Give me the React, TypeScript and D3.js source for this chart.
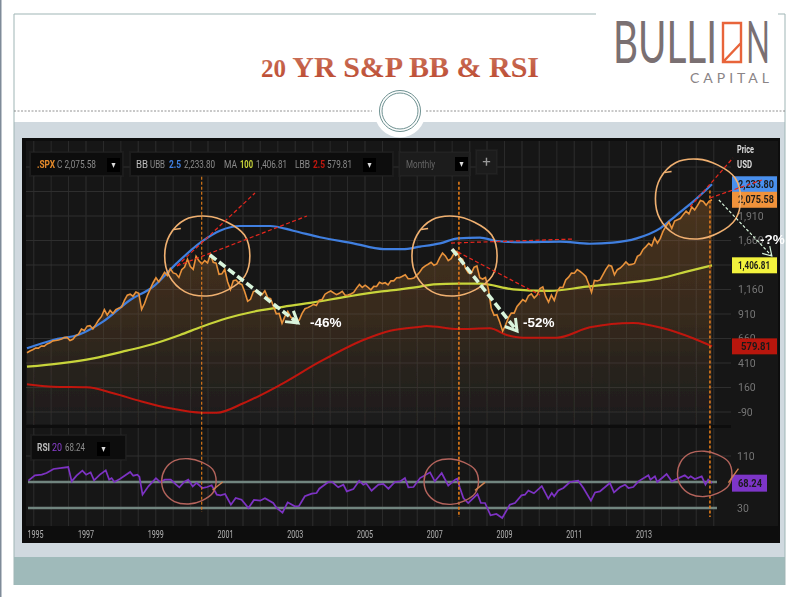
import React, { useEffect } from 'react';
import * as d3 from 'd3';

// monthly closes, Apr 1995 to Mar 2015
const spxStart = 1995.33;
const spxValues = [
  515, 533, 545, 562, 562, 584, 582, 605, 616,
  636, 640, 645, 654, 669, 671, 640, 652, 687, 705, 757, 741,
  786, 791, 757, 801, 848, 885, 954, 899, 947, 915, 955, 970,
  980, 1049, 1102, 1112, 1091, 1134, 1121, 957, 1017, 1099, 1164, 1229,
  1280, 1238, 1286, 1335, 1302, 1373, 1329, 1320, 1283, 1363, 1389, 1469,
  1394, 1366, 1499, 1452, 1421, 1455, 1431, 1518, 1437, 1429, 1315, 1320,
  1366, 1240, 1160, 1249, 1256, 1224, 1211, 1134, 1041, 1060, 1139, 1148,
  1130, 1107, 1147, 1077, 1067, 990, 912, 916, 815, 886, 936, 880,
  856, 841, 848, 917, 964, 975, 990, 1008, 996, 1051, 1058, 1112,
  1131, 1145, 1126, 1107, 1121, 1141, 1102, 1104, 1115, 1130, 1174, 1212,
  1181, 1204, 1181, 1157, 1192, 1191, 1234, 1220, 1229, 1207, 1249, 1248,
  1280, 1281, 1295, 1311, 1270, 1270, 1277, 1304, 1336, 1378, 1401, 1418,
  1438, 1407, 1421, 1482, 1531, 1503, 1455, 1474, 1527, 1549, 1481, 1468,
  1379, 1331, 1323, 1386, 1400, 1280, 1267, 1283, 1165, 969, 896, 903,
  826, 735, 798, 873, 919, 919, 987, 1021, 1057, 1036, 1096, 1115,
  1074, 1104, 1169, 1187, 1089, 1031, 1102, 1049, 1141, 1183, 1181, 1258,
  1286, 1327, 1326, 1364, 1345, 1321, 1292, 1219, 1131, 1253, 1247, 1258,
  1312, 1366, 1408, 1398, 1310, 1362, 1379, 1407, 1441, 1412, 1416, 1426,
  1498, 1515, 1569, 1598, 1631, 1606, 1686, 1633, 1682, 1757, 1806, 1848,
  1783, 1859, 1872, 1884, 1924, 1960, 1931, 2003, 1972, 2018, 2068, 2059,
  2020, 2060, 2075.58,
];

const upperBand: [number, number][] = [
  [1995.33, 560], [1996.09, 645], [1996.87, 703], [1997.54, 832], [1998.33, 1053], [1999.0, 1189],
  [1999.68, 1427], [2000.41, 1648], [2000.94, 1760], [2001.52, 1808], [2002.4, 1808], [2003.07, 1760],
  [2003.85, 1693], [2004.82, 1631], [2005.69, 1573], [2006.25, 1572], [2006.76, 1597], [2007.34, 1631],
  [2007.87, 1682], [2008.5, 1689], [2008.99, 1655], [2009.75, 1642], [2010.83, 1648], [2011.7, 1627],
  [2012.37, 1638], [2013.06, 1682], [2013.74, 1784], [2014.22, 1920], [2014.7, 2056], [2015.25, 2233.8],
];
const middleBand: [number, number][] = [
  [1995.33, 372], [1996.29, 407], [1997.26, 458], [1998.23, 536], [1999.0, 604], [1999.78, 696],
  [2000.41, 780], [2001.14, 866], [2001.91, 933], [2002.69, 978], [2003.66, 1029], [2004.63, 1087],
  [2005.59, 1138], [2006.18, 1162], [2006.76, 1189], [2007.15, 1213], [2007.87, 1219], [2008.5, 1219],
  [2009.47, 1162], [2010.53, 1145], [2011.6, 1189], [2012.76, 1229], [2013.74, 1274], [2014.51, 1342],
  [2015.25, 1406.81],
];
const lowerBand: [number, number][] = [
  [1995.33, 193], [1996.09, 168], [1997.07, 162], [1997.84, 101], [1998.62, 22], [1999.49, -52],
  [2000.41, -97], [2000.85, -97], [2001.62, -1], [2002.69, 186], [2003.85, 423], [2005.11, 645],
  [2005.89, 740], [2006.76, 780], [2006.95, 788], [2007.87, 757], [2008.79, 764], [2009.28, 696],
  [2009.76, 668], [2010.73, 668], [2011.7, 774], [2012.96, 818], [2013.83, 764], [2014.7, 662],
  [2015.25, 579.81],
];

const rsiYears = [
  1995.37, 1995.56, 1995.76, 1995.9, 1996.1, 1996.53, 1996.63, 1996.77, 1996.94, 1997.05, 1997.18, 1997.28,
  1997.45, 1997.62, 1997.72, 1997.79, 1997.87, 1998.03, 1998.33, 1998.42, 1998.54, 1998.6, 1998.69, 1998.86,
  1999.08, 1999.2, 1999.34, 1999.51, 1999.65, 1999.76, 1999.9, 2000.02, 2000.15, 2000.26, 2000.43, 2000.57,
  2000.7, 2000.85, 2000.96, 2001.09, 2001.26, 2001.4, 2001.57, 2001.77, 2001.93, 2002.11, 2002.25, 2002.49,
  2002.59, 2002.76, 2002.91, 2003.12, 2003.24, 2003.41, 2003.61, 2003.75, 2003.83, 2004.09, 2004.21, 2004.38,
  2004.53, 2004.63, 2004.82, 2004.99, 2005.11, 2005.19, 2005.35, 2005.55, 2005.69, 2005.84, 2006.03, 2006.18,
  2006.32, 2006.42, 2006.57, 2006.76, 2007.05, 2007.19, 2007.39, 2007.58, 2007.78, 2007.84, 2007.92, 2008.02,
  2008.16, 2008.43, 2008.53, 2008.65, 2008.81, 2008.98, 2009.15, 2009.37, 2009.52, 2009.71, 2009.81, 2009.91,
  2010.07, 2010.3, 2010.49, 2010.59, 2010.66, 2010.78, 2010.93, 2011.12, 2011.36, 2011.51, 2011.73, 2011.85,
  2011.99, 2012.28, 2012.4, 2012.57, 2012.72, 2012.82, 2012.96, 2013.11, 2013.4, 2013.46, 2013.59, 2013.66,
  2013.93, 2014.08, 2014.46, 2014.56, 2014.63, 2014.75, 2014.95, 2015.06, 2015.14, 2015.25,
];
const rsiValues = [
  72, 80.3, 81.3, 83.8, 90, 93, 71, 79.7, 87.4, 81.3, 84.9, 72.6,
  81.3, 88, 73.6, 76, 70, 74.6, 85.4, 79.7, 81.3, 77.7, 50.5, 63.3,
  76, 70, 73.6, 73.6, 66.9, 61.8, 70, 73.6, 63.3, 68.5, 60.8, 62.3,
  64.9, 50.5, 49.5, 51.5, 35, 45.4, 42.8, 30, 42.3, 41.3, 44.9, 37.7,
  30, 22.8, 38.7, 32.6, 33, 48, 52, 53, 59.7, 70, 70, 61.8,
  65.9, 55.6, 59, 72, 65.9, 68, 56.7, 65.9, 67, 59.7, 70, 71,
  76, 61.8, 62.3, 76, 84.9, 71, 83.8, 64.4, 73.6, 75, 60.8, 45.4,
  37.7, 51.5, 37.7, 37.7, 18.7, 20.8, 14.6, 35, 37.7, 49.5, 50.5, 57,
  52.6, 63.8, 44.4, 53, 48, 57, 60.8, 70, 72, 60.8, 41.3, 54,
  55.6, 68.5, 54, 61.8, 65.9, 60.8, 62.3, 71, 80.3, 73.6, 78.7, 70,
  82.3, 71, 80.3, 76, 78.7, 74.6, 78.7, 65.9, 73.6, 68.24,
];

const yearLabels = [1997, 1999, 2001, 2003, 2005, 2007, 2009, 2011, 2013];
const priceTicks = [1910, 1660, 1160, 910, 660, 410, 160, -90];
const priceGrid = [2410, 2160, 1910, 1660, 1410, 1160, 910, 660, 410, 160, -90];
const rsiTicks = [110, 30];

// event lines (year)
const eventYears = [2000.41, 2007.89, 2015.19];
const eventTops = [2310, 2260, 2170];

// hand drawn trend lines [year, price, year, price]
const redLines = [
  [1999.69, 1400, 2001.96, 2145],
  [1999.69, 1400, 2003.47, 1910],
  [2007.66, 1634, 2011.21, 1675],
  [2007.69, 1573, 2010.25, 1104],
  [2014.61, 2002, 2015.86, 2502],
  [2015.19, 2094, 2016.7, 2277],
];
const downArrows = [
  [2000.65, 1512, 2003.21, 818],
  [2007.69, 1573, 2009.58, 737],
];
const thinArrow = [2015.45, 2073, 2016.99, 1502];
const priceCircles = [[2000.56, 1507], [2007.75, 1507], [2014.83, 2089]];
const rsiCircles = [[2000.03, 71.5], [2007.66, 71], [2015.03, 83]];
const wobble = [1, 1.02, 0.98, 1.0, 1.03, 1.01, 0.98, 1.0, 1.02, 0.97, 0.95, 1.01];

const x = d3.scaleLinear().domain([1995.33, 2015.25]).range([27, 712]);
const xLabel = d3.scaleLinear().domain([1997, 2013]).range([86, 644]);
const y = d3.scaleLinear().domain([-90, 1910]).range([412, 216]);
const yRsi = d3.scaleLinear().domain([30, 110]).range([508, 456]);

const pair = d3.line<[number, number]>().x((d) => x(d[0])).y((d) => y(d[1])).curve(d3.curveMonotoneX);
const spxPts: [number, number][] = spxValues.map((v, i) => [spxStart + i / 12, v]);
const spxLine = d3.line<[number, number]>().x((d) => x(d[0])).y((d) => y(d[1]))(spxPts) as string;
const spxArea = d3.area<[number, number]>().x((d) => x(d[0])).y0(424).y1((d) => y(d[1]))(spxPts) as string;
const rsiLine = d3.line<number>().x((_, i) => x(rsiYears[i])).y((d) => yRsi(d))(rsiValues) as string;

const blob = (cx: number, cy: number, rx: number, ry: number) => {
  const pts = wobble.map((w, i) => {
    const a = (i / wobble.length) * Math.PI * 2;
    return [cx + Math.cos(a) * rx * w, cy + Math.sin(a) * ry * w] as [number, number];
  });
  return d3.line().curve(d3.curveCatmullRomClosed)(pts) as string;
};

const head = (l: number[], size: number) => {
  const x2 = x(l[2]);
  const y2 = y(l[3]);
  const a = Math.atan2(y2 - y(l[1]), x2 - x(l[0]));
  const p = (d: number) => `${x2 - size * Math.cos(a + d)},${y2 - size * Math.sin(a + d)}`;
  return `M${p(0.55)}L${x2},${y2}L${p(-0.55)}`;
};

const halfYears = d3.range(1995.5, 2015.1, 0.5);
const ui = 'Roboto, sans-serif';

const Button = ({ bx, by }: { bx: number; by: number }) => (
  <g>
    <rect x={bx} y={by} width={13} height={14} fill="#050505" />
    <path d={`M${bx + 4.5},${by + 5}h4l-2,5z`} fill="#ddd" />
  </g>
);

// the platform font is narrow, so squeeze the glyphs as well
const Lab = ({ w, ...rest }: any) => <text textLength={w} lengthAdjust="spacingAndGlyphs" {...rest} />;

const App: React.FC = () => {
  useEffect(() => {
    document.body.style.margin = '0';
  }, []);

  return (
    <svg width={800} height={597} style={{ display: 'block' }} fontFamily={ui}>
      <defs>
        <linearGradient id="spxFill" gradientUnits="userSpaceOnUse" x1="0" y1="190" x2="0" y2="424">
          <stop offset="0" stopColor="#a5622a" stopOpacity={0.36} />
          <stop offset="0.55" stopColor="#8a5a2c" stopOpacity={0.26} />
          <stop offset="1" stopColor="#5a4a3a" stopOpacity={0.06} />
        </linearGradient>
        <linearGradient id="titleFill" x1="0" y1="0" x2="0" y2="1">
          <stop offset="0" stopColor="#cf7a62" />
          <stop offset="1" stopColor="#b9452c" />
        </linearGradient>
        <filter id="soft" x="-5%" y="-5%" width="110%" height="110%">
          <feGaussianBlur stdDeviation="0.4" />
        </filter>
      </defs>

      {/* slide */}
      <rect width={800} height={597} fill="#fff" />
      <rect x={0} y={0} width={1.5} height={597} fill="#7f8b99" />
      <rect x={14} y={122} width={771} height={435} fill="#d0d9df" />
      <rect x={14} y={557} width={771} height={28} fill="#9fbaba" />
      <path d="M785,14V585M14,585V14H596M778,14H785" fill="none" stroke="#9fb5b5" strokeWidth={1} />
      <path d="M14,111H372M426,111H785" stroke="#777" strokeWidth={0.8} strokeDasharray="2 1.5" />
      <circle cx={400} cy={112} r={25.5} fill="#fff" />
      <circle cx={400} cy={111} r={20.5} fill="#fff" stroke="#6d9090" strokeWidth={1} />
      <circle cx={400} cy={111} r={18} fill="#fff" stroke="#6d9090" strokeWidth={1} />
      <text x={400} y={77} textAnchor="middle" fontFamily="'Liberation Serif', serif" fontWeight="bold" fontSize={30} fill="url(#titleFill)">
        <tspan fontSize={25}>20</tspan> YR S&amp;P BB &amp; RSI
      </text>

      {/* logo */}
      <g fontFamily="Lato, sans-serif" fontWeight={400} fill="#7a7072">
        <Lab x={613} y={63} fontSize={58} w={104}>BULLI</Lab>
        <Lab x={746} y={63} fontSize={58} w={24}>N</Lab>
        <text x={690} y={83} fontSize={14} textLength={79} fill="#8a8486">CAPITAL</text>
      </g>
      <path d="M723,23H741V62H723ZM723,62L741,43" fill="none" stroke="#e8643a" strokeWidth={2.4} />

      <g filter="url(#soft)">
        {/* panel */}
        <rect x={22} y={138} width={758} height={405} fill="#0b0b0b" />
        <rect x={26} y={141} width={752} height={284} fill="#191919" />
        <rect x={26} y={428} width={752} height={98} fill="#191919" />
        <rect x={731} y={141} width={47} height={385} fill="#141414" />
        <rect x={26} y={526} width={752} height={16} fill="#111" />

        {halfYears.map((t) => (
          <g key={t} stroke="#2b2b2b" strokeWidth={1}>
            <line x1={xLabel(t)} x2={xLabel(t)} y1={141} y2={425} />
            <line x1={xLabel(t)} x2={xLabel(t)} y1={428} y2={526} />
          </g>
        ))}
        {priceGrid.map((v) => (
          <line key={v} x1={26} x2={731} y1={y(v)} y2={y(v)} stroke="#2e2e2e" strokeWidth={1} />
        ))}
        <line x1={26} x2={731} y1={yRsi(110)} y2={yRsi(110)} stroke="#2e2e2e" strokeWidth={1} />

        {/* toolbar */}
        <g fill="#0f0f0f" stroke="#262626">
          <rect x={30} y={152} width={93} height={24} />
          <rect x={130} y={152} width={263} height={24} />
          <rect x={399} y={152} width={71} height={24} fill="#1c1c1c" />
          <rect x={476} y={150} width={21} height={24} fill="#1c1c1c" />
          <rect x={31} y={435} width={95} height={25} />
        </g>
        <Button bx={107} by={158} />
        <Button bx={363} by={158} />
        <Button bx={455} by={157} />
        <Button bx={97} by={442} />
        <g fontSize={10.5} fill="#8a8a8a">
          <Lab x={37} y={168} fill="#e58a2a" fontWeight="bold" w={18}>.SPX</Lab>
          <Lab x={57} y={168} w={39}>C 2,075.58</Lab>
          <Lab x={136} y={168} fill="#bbb" w={12}>BB</Lab>
          <Lab x={150} y={168} w={15}>UBB</Lab>
          <Lab x={169} y={168} fill="#3f7fe0" fontWeight="bold" w={12}>2.5</Lab>
          <Lab x={184} y={168} w={31}>2,233.80</Lab>
          <Lab x={224} y={168} w={13}>MA</Lab>
          <Lab x={240} y={168} fill="#c8d43a" fontWeight="bold" w={13}>100</Lab>
          <Lab x={256} y={168} w={31}>1,406.81</Lab>
          <Lab x={295} y={168} w={15}>LBB</Lab>
          <Lab x={313} y={168} fill="#c0170f" fontWeight="bold" w={12}>2.5</Lab>
          <Lab x={327} y={168} w={25}>579.81</Lab>
          <Lab x={406} y={168} fill="#666" w={29}>Monthly</Lab>
          <text x={486.5} y={167} fill="#999" fontSize={15} textAnchor="middle">+</text>
          <Lab x={37} y={451} fill="#bbb" fontWeight="bold" w={13}>RSI</Lab>
          <Lab x={52} y={451} fill="#8a3fd0" w={10}>20</Lab>
          <Lab x={65} y={451} w={20}>68.24</Lab>
          <Lab x={737} y={153} fill="#ddd" fontWeight="bold" w={17}>Price</Lab>
          <Lab x={737} y={168} fill="#ddd" fontWeight="bold" w={15}>USD</Lab>
        </g>

        {/* price */}
        <path d={spxArea} fill="url(#spxFill)" />
        <path d={pair(lowerBand) as string} fill="none" stroke="#c0170f" strokeWidth={2} />
        <path d={pair(middleBand) as string} fill="none" stroke="#c8d43a" strokeWidth={2.2} />
        <path d={pair(upperBand) as string} fill="none" stroke="#3f7fe0" strokeWidth={2.2} />
        <path d={spxLine} fill="none" stroke="#e8923a" strokeWidth={1.6} />

        <g fontSize={10.5} fill="#777">
          {priceTicks.map((v) => (
            <text key={v} x={738} y={y(v) + 3.5}>{d3.format(',')(v).replace('\u2212', '-')}</text>
          ))}
          {rsiTicks.map((v) => (
            <text key={v} x={737} y={yRsi(v) + 3.5}>{v}</text>
          ))}
        </g>
        <g fontSize={10.5} fontWeight="bold" fill="#1a1a1a">
          <rect x={732} y={y(2233.8) - 8} width={45} height={16} fill="#4a90ee" />
          <Lab x={738} y={y(2233.8) + 3.5} w={36}>2,233.80</Lab>
          <rect x={732} y={y(2075.58) - 8} width={45} height={16} fill="#f0923a" />
          <Lab x={738} y={y(2075.58) + 3.5} w={36}>2,075.58</Lab>
          <rect x={732} y={y(1406.81) - 8} width={45} height={16} fill="#f2f23c" />
          <Lab x={738} y={y(1406.81) + 3.5} w={32}>1,406.81</Lab>
          <rect x={732} y={y(579.81) - 8} width={45} height={16} fill="#b8140c" />
          <Lab x={741} y={y(579.81) + 3.5} w={30}>579.81</Lab>
          <rect x={732} y={yRsi(68.24) - 8.5} width={35} height={17} fill="#7d35c8" />
          <Lab x={738} y={yRsi(68.24) + 3.5} w={24}>68.24</Lab>
        </g>

        {/* rsi */}
        {[70, 30].map((v) => (
          <line key={v} x1={28} x2={717} y1={yRsi(v)} y2={yRsi(v)} stroke="#71857f" strokeWidth={2.4} />
        ))}
        <path d={rsiLine} fill="none" stroke="#7d32c4" strokeWidth={1.7} />

        {/* years */}
        <g fontSize={10.5} fill="#b0b0b0">
          <Lab x={27.5} y={538} w={16}>1995</Lab>
          {yearLabels.map((t) => (
            <Lab key={t} x={xLabel(t) - 8} y={538} w={16}>{t}</Lab>
          ))}
        </g>

        {/* annotations */}
        {eventYears.map((t, i) => (
          <line key={t} x1={x(t)} x2={x(t)} y1={y(eventTops[i])} y2={i === 0 ? 512 : 517}
            stroke="#e07a1a" strokeWidth={i === 0 ? 1.1 : 1.6} strokeDasharray="3 2" />
        ))}
        {priceCircles.map((c) => (
          <g key={c[0]} fill="none" stroke="#f0b070" strokeWidth={1.6}>
            <path d={blob(x(c[0]), y(c[1]), 43, 40.5)} />
            <path d={`M${x(c[0]) - 26},${y(c[1]) - 27}l-7,1`} />
          </g>
        ))}
        {rsiCircles.map((c, i) => (
          <g key={c[0]} fill="none" stroke="#b5645c" strokeWidth={1.4}>
            <path d={blob(x(c[0]), yRsi(c[1]), 27.5, 23)} />
            <path
              d={`M${x(c[0]) + 24},${yRsi(c[1]) + 9}l${i === 2 ? 10 : 10},${i === 2 ? -14 : -8}`}
              stroke="#d08050"
            />
          </g>
        ))}
        {redLines.map((l) => (
          <line key={l.join()} x1={x(l[0])} y1={y(l[1])} x2={x(l[2])} y2={y(l[3])}
            stroke="#e8261c" strokeWidth={1.2} strokeDasharray="4 2.5" />
        ))}
        {downArrows.map((l) => (
          <g key={l[0]} fill="none" stroke="#d9f5dc">
            <line x1={x(l[0])} y1={y(l[1])} x2={x(l[2])} y2={y(l[3])} strokeWidth={3.6} strokeDasharray="8 3.5" />
            <path d={head(l, 13)} strokeWidth={3} />
          </g>
        ))}
        <g fill="none" stroke="#d9f5dc">
          <line x1={x(thinArrow[0])} y1={y(thinArrow[1])} x2={x(thinArrow[2])} y2={y(thinArrow[3])}
            strokeWidth={1.2} strokeDasharray="3 2" />
          <path d={head(thinArrow, 10)} strokeWidth={1.2} />
        </g>
        <g fill="#fff" fontFamily="'Liberation Sans', sans-serif" fontWeight="bold" fontSize={13.5}>
          <text x={310} y={327}>-46%</text>
          <text x={523} y={327}>-52%</text>
          <text x={760} y={244}>-?%</text>
        </g>
      </g>
    </svg>
  );
};

export default App;
